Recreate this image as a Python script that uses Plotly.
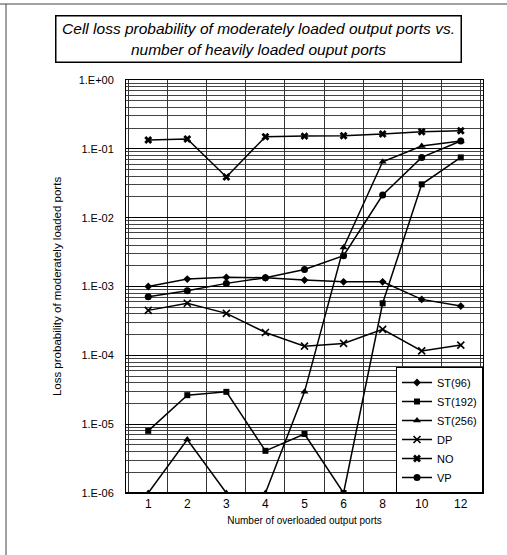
import plotly.graph_objects as go

ports = ["1", "2", "3", "4", "5", "6", "8", "10", "12"]
st96 = [1.0e-3, 1.28e-3, 1.36e-3, 1.34e-3, 1.24e-3, 1.17e-3, 1.17e-3, 6.5e-4, 5.2e-4]
st192 = [8.0e-6, 2.64e-5, 2.95e-5, 4.1e-6, 7.2e-6, 1.0e-6, 5.7e-4, 3.05e-2, 7.5e-2]
st256 = [1.0e-6, 6.0e-6, 1.0e-6, 1.0e-6, 2.95e-5, 3.7e-3, 6.5e-2, 1.1e-1, 1.3e-1]
dp = [4.5e-4, 5.7e-4, 4.07e-4, 2.15e-4, 1.36e-4, 1.49e-4, 2.38e-4, 1.16e-4, 1.41e-4]
no = [1.34e-1, 1.39e-1, 3.9e-2, 1.5e-1, 1.53e-1, 1.55e-1, 1.64e-1, 1.77e-1, 1.83e-1]
vp = [7.1e-4, 8.7e-4, 1.11e-3, 1.34e-3, 1.77e-3, 2.8e-3, 2.13e-2, 7.5e-2, 1.3e-1]

ytick_vals = [1e0, 1e-1, 1e-2, 1e-3, 1e-4, 1e-5, 1e-6]
ytick_text = ["1.E+00", "1.E-01", "1.E-02", "1.E-03", "1.E-04", "1.E-05", "1.E-06"]

series = [
    ("ST(96)", st96, dict(symbol="diamond", size=6)),
    ("ST(192)", st192, dict(symbol="square", size=6)),
    ("ST(256)", st256, dict(symbol="triangle-up", size=7)),
    ("DP", dp, dict(symbol="x-thin-open", size=7, line=dict(width=1.6, color="black"))),
    ("NO", no, dict(symbol="x", size=7)),
    ("VP", vp, dict(symbol="circle", size=7)),
]

fig = go.Figure()
for name, vals, mk in series:
    m = dict(color="black")
    m.update(mk)
    fig.add_trace(go.Scatter(x=ports, y=vals, name=name, mode="lines+markers",
                             line=dict(color="black", width=1.5), marker=m))

minor_vals = [m * 10.0 ** e for e in range(-6, 0) for m in range(2, 10)]

fig.update_layout(
    width=507, height=555,
    margin=dict(l=126, r=24, t=80, b=62),
    paper_bgcolor="white", plot_bgcolor="white",
    font=dict(family="Liberation Sans, Arial, sans-serif", color="black", size=11),
    showlegend=True,
    legend=dict(x=1, y=0, xanchor="right", yanchor="bottom",
                bgcolor="white", bordercolor="black", borderwidth=1,
                font=dict(size=11), tracegroupgap=0, itemwidth=30),
    xaxis=dict(type="category", tickson="boundaries", showgrid=True,
               gridcolor="#333", gridwidth=1, ticks="", showline=True,
               linecolor="black", linewidth=1, mirror=True,
               tickfont=dict(size=12),
               title=dict(text="Number of overloaded output ports", font=dict(size=10), standoff=6)),
    yaxis=dict(type="log", range=[-6, 0], tickvals=ytick_vals, ticktext=ytick_text,
               showgrid=True, gridcolor="black", gridwidth=1, ticks="",
               ticklabelstandoff=9,
               showline=True, linecolor="black", linewidth=1, mirror=True,
               minor=dict(tickvals=minor_vals, showgrid=True, gridcolor="#444", gridwidth=1, ticks=""),
               tickfont=dict(size=11),
               title=dict(text="Loss probability of moderately loaded ports", font=dict(size=11.5), standoff=14)),
    annotations=[dict(
        text="<i>Cell loss probability of moderately loaded output ports vs.<br>number of heavily loaded ouput ports</i>",
        xref="paper", yref="paper", x=(258.5 - 126) / 357, y=(493 - 39) / 413,
        xanchor="center", yanchor="middle", showarrow=False,
        font=dict(size=15.5), bordercolor="black", borderwidth=1.5, borderpad=2,
        width=400, height=41, bgcolor="white")],
    shapes=[
        dict(type="line", xref="paper", yref="paper", x0=(6 - 126) / 357, x1=(6 - 126) / 357,
             y0=(493 - 555) / 413, y1=(493 - 4) / 413, line=dict(color="#444", width=1)),
        dict(type="line", xref="paper", yref="paper", x0=(0 - 126) / 357, x1=(507 - 126) / 357,
             y0=(493 - 4) / 413, y1=(493 - 4) / 413, line=dict(color="#444", width=1)),
        dict(type="line", xref="paper", yref="paper", x0=0, x1=1, y0=0, y1=0,
             line=dict(color="black", width=2)),
    ],
)

fig.write_html("out.html", config={"displayModeBar": False},
               post_script="document.body.style.margin='0';")
